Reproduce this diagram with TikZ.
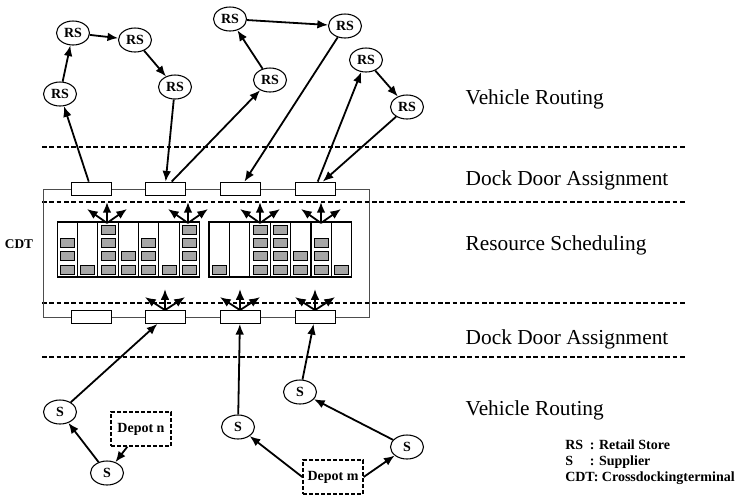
\documentclass[tikz,border=0pt]{standalone}
\usepackage{fontspec}
\setmainfont{Liberation Serif}
\usetikzlibrary{arrows.meta,shapes.geometric}
\definecolor{lager}{HTML}{A6A6A6}
\definecolor{rahmen}{HTML}{4D4D4D}

\begin{document}
\begin{tikzpicture}[x=0.75pt,y=-0.75pt,
   kunde/.style={ellipse,draw,line width=0.8pt,minimum width=24.75pt,minimum height=18pt,inner sep=0pt,font=\fontsize{10.5}{12}\selectfont\bfseries},
   tor/.style={draw,line width=0.6pt,fill=white,minimum width=30pt,minimum height=9.75pt,inner sep=0pt},
   depot/.style={draw,line width=1pt,dash pattern=on 3pt off 1.5pt,minimum width=45pt,minimum height=25.5pt,inner sep=0pt,font=\fontsize{10.5}{12}\selectfont\bfseries},
   fahrt/.style={-{Latex[length=8pt,width=6.5pt]},line width=1.35pt},
   trenn/.style={line width=1.3pt,dash pattern=on 3.5pt off 2pt},
   ebene/.style={anchor=west,font=\fontsize{16}{19}\selectfont},
   kiste/.style={draw,line width=0.6pt,fill=lager}]

  \useasboundingbox (0,0) rectangle (738,497);

  % trennlinien
  \foreach \y in {147,202,303,357}
    \draw[trenn] (42,\y) -- (687,\y);

  % --- CDT ---
  \draw[line width=0.7pt,rahmen] (43,189) rectangle (369,317);
  \node[font=\fontsize{10}{12}\selectfont\bfseries] (cdt) at (19,244) {CDT};
  \foreach \x [count=\i] in {91,165,240,315} {
    \node[tor] (dt\i) at (\x,188.5) {};
    \node[tor] (db\i) at (\x,317) {};
  }

  % lager links
  \foreach \h [count=\i] in {3,1,4,2,3,1,4} {
    \draw[line width=0.8pt] (37+\i*20.3,222) rectangle +(20.3,55);
    \foreach \j in {1,...,4} {
      \ifnum\j>\h\relax\else
        \draw[kiste] (40.2+\i*20.3,287.3-\j*13.3) rectangle +(14,-9);
      \fi
    }
  }
  % lager rechts
  \foreach \h [count=\i] in {1,0,4,4,2,3,1} {
    \draw[line width=0.8pt] (188.6+\i*20.4,222) rectangle +(20.4,55);
    \foreach \j in {1,...,4} {
      \ifnum\j>\h\relax\else
        \draw[kiste] (191.8+\i*20.4,287.3-\j*13.3) rectangle +(14,-9);
      \fi
    }
  }

  % verteilung
  \foreach \x in {107,188,260,321} {
    \coordinate (f) at (\x,223);
    \draw[fahrt] (f) -- ++(0,-21);
    \draw[fahrt] (f) -- ++(-20,-14);
    \draw[fahrt] (f) -- ++(20,-14);
  }
  \foreach \i in {2,3,4} {
    \draw[fahrt] (db\i.north) -- ++(0,-21);
    \draw[fahrt] (db\i.north) -- ++(-20,-13);
    \draw[fahrt] (db\i.north) -- ++(20,-13);
  }

  % --- retail stores ---
  \node[kunde] (r1) at (60,94) {RS};
  \node[kunde] (r2) at (73,33) {RS};
  \node[kunde] (r3) at (135,40) {RS};
  \node[kunde] (r4) at (175,87) {RS};
  \node[kunde] (r5) at (230,19) {RS};
  \node[kunde] (r6) at (345,26) {RS};
  \node[kunde] (r7) at (270,80) {RS};
  \node[kunde] (r8) at (366,60) {RS};
  \node[kunde] (r9) at (407,107) {RS};

  \draw[fahrt] (dt1) -- (r1);
  \draw[fahrt] (r1) -- (r2);
  \draw[fahrt] (r2) -- (r3);
  \draw[fahrt] (r3) -- (r4);
  \draw[fahrt] (r4) -- (dt2);
  \draw[fahrt] (dt2) -- (r7);
  \draw[fahrt] (r7) -- (r5);
  \draw[fahrt] (r5) -- (r6);
  \draw[fahrt] (r6) -- (dt3);
  \draw[fahrt] (dt4) -- (r8);
  \draw[fahrt] (r8) -- (r9);
  \draw[fahrt] (r9) -- (dt4);

  % --- supplier ---
  \node[kunde] (s1) at (60,412) {S};
  \node[kunde] (s2) at (107,473) {S};
  \node[kunde] (s3) at (238,427) {S};
  \node[kunde] (s4) at (300,392) {S};
  \node[kunde] (s5) at (407,447) {S};
  \node[depot] (dn) at (141,429) {Depot n};
  \node[depot] (dm) at (333,477) {Depot m};

  \draw[fahrt] (dn) -- (s2);
  \draw[fahrt] (s2) -- (s1);
  \draw[fahrt] (s1) -- (db2);
  \draw[fahrt] (dm.west) -- (s3);
  \draw[fahrt] (s3) -- (db3);
  \draw[fahrt] (dm.east) -- (s5);
  \draw[fahrt] (s5) -- (s4);
  \draw[fahrt] (s4) -- (db4);

  % --- ebenen ---
  \node[ebene] (e1) at (461,99) {Vehicle Routing};
  \node[ebene] (e2) at (461,180) {Dock Door Assignment};
  \node[ebene] (e3) at (461,245) {Resource Scheduling};
  \node[ebene] (e4) at (461,339) {Dock Door Assignment};
  \node[ebene] (e5) at (461,410) {Vehicle Routing};

  \node[anchor=north west,align=left,inner sep=0pt,font=\fontsize{10.5}{12}\selectfont\bfseries] (legende) at (565,440)
    {\makebox[1.75em][l]{RS}: Retail Store\\ \makebox[1.75em][l]{S}: Supplier\\ CDT: Crossdockingterminal};
\end{tikzpicture}
\end{document}
